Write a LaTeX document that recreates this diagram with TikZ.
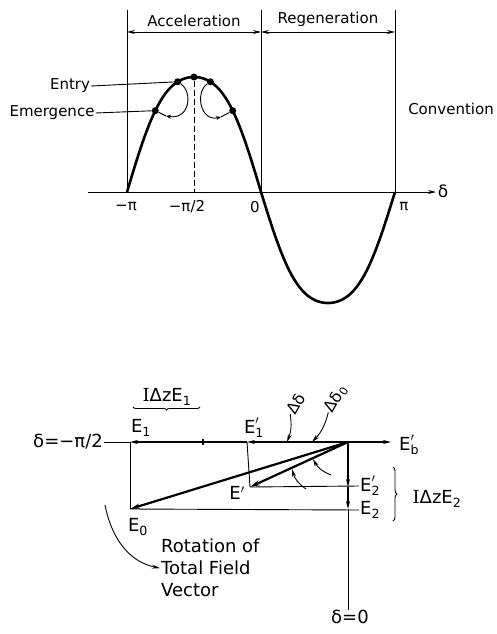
\documentclass[tikz,border=0pt]{standalone}
\usepackage{fontspec}
\setmainfont{DejaVu Sans}
\newfontfamily\serifI{DejaVu Serif}
\usepackage{amsmath}
\usetikzlibrary{arrows.meta, decorations.pathreplacing}

\begin{document}
\begin{tikzpicture}[
    x=1pt, y=-1pt,
    >={Stealth[length=8pt,width=4pt]},
    declare function={hump(\t)=sin(\t)*(1+0.24*cos(\t)^2);},
    guide/.style={line width=0.9pt},
    medline/.style={line width=1.6pt},
    curve/.style={line width=2.6pt},
    vec/.style={line width=2.2pt, ->, >={Stealth[length=10pt,width=5pt]}},
    small arrow/.style={guide, ->, >={Stealth[length=5pt,width=4pt]}},
    toplabel/.style={font=\fontsize{15}{17}\selectfont, inner sep=1pt},
    botlabel/.style={font=\fontsize{18}{22}\selectfont, inner sep=1pt},
    dot/.style={circle, fill, inner sep=0pt, minimum size=7pt},
  ]
  \useasboundingbox (0,0) rectangle (496,634);

  % upper plot
  \coordinate (mpi) at (127,192);
  \coordinate (zero) at (261,192);
  \coordinate (ppi) at (395,192);
  \coordinate (mpitop) at (127,10);
  \coordinate (zerotop) at (261,10);
  \coordinate (ppitop) at (395,10);
  \coordinate (axs) at (88,192);
  \coordinate (axe) at (436,192);

  \draw[guide] (mpitop) -- (mpi);
  \draw[guide] (zerotop) -- (zero);
  \draw[guide] (ppitop) -- (ppi);
  \draw[guide, ->] (axs) -- (axe);
  \draw[guide, <->] (127,32) -- node[toplabel, above=4pt] (acc) {Acceleration} (261,32);
  \draw[guide, <->] (261,32) -- node[toplabel, above=4pt] (reg) {Regeneration} (395,32);

  \draw[curve] plot[domain=-180:180, samples=121, smooth]
    ({261+0.7444*\x},{192+((\x<0)*115+(\x>=0)*111)*hump(\x)});

  \node[dot] (peak) at (194,77) {};
  \node[dot] (entL) at ({261+0.7444*(-112)},{192+115*hump(-112)}) {};
  \node[dot] (entR) at ({261+0.7444*(-68)},{192+115*hump(-68)}) {};
  \node[dot] (emgL) at ({261+0.7444*(-142)},{192+115*hump(-142)}) {};
  \node[dot] (emgR) at ({261+0.7444*(-38)},{192+115*hump(-38)}) {};
  \draw[guide, dashed, dash pattern=on 6pt off 3pt] (peak) -- (194,192);

  \coordinate (lpL) at (166,116);
  \coordinate (lpR) at (221,117);
  \draw[small arrow] (entL) .. controls (193,92) and (190,120) .. (lpL);
  \draw[guide] (lpL) -- (emgL);
  \draw[small arrow] (entR) .. controls (195,92) and (200,122) .. (lpR);
  \draw[guide] (lpR) -- (emgR);

  \node[toplabel] (entry) at (70,86) {Entry};
  \node[toplabel] (emerg) at (52,113) {Emergence};
  \node[toplabel] (conv) at (451,109) {Convention};
  \draw[guide] (entry.east) -- (entL);
  \draw[guide] (emerg.east) -- (emgL);

  \node[toplabel] (lmpi) at (126,207) {−π};
  \node[toplabel] (lmpi2) at (187,207) {−π/2};
  \node[toplabel] (lzero) at (255,207) {0};
  \node[toplabel] (lppi) at (404,207) {π};
  \node[toplabel, font=\fontsize{17}{19}\selectfont] (ldel) at (443,191) {δ};

  % lower phasor diagram
  \coordinate (O) at (348,442);
  \coordinate (E1) at (130,442);
  \coordinate (E1p) at (247,442);
  \coordinate (tk) at (203,442);
  \coordinate (Eb) at (391,442);
  \coordinate (E0) at (130,509);
  \coordinate (Ep) at (250,487);
  \coordinate (E2p) at (348,487);
  \coordinate (E2) at (348,509);
  \coordinate (dz) at (348,610);

  \node[botlabel] (dmpi2) at (68,442) {δ=−π/2};
  \draw[guide] (dmpi2.east) -- (E1);
  \draw[medline, ->] (O) -- (E1p);
  \draw[medline, ->] (E1p) -- (E1);
  \draw[medline, ->] (O) -- (Eb);
  \draw[medline] ([yshift=-3pt]tk) -- ([yshift=3pt]tk);

  \node[botlabel] (lE1) at (141,428) {E\textsubscript{1}};
  \node[botlabel] (lE1p) at (254,428) {$\text{E}'_{\text{1}}$};
  \node[botlabel, anchor=west] (lEb) at (398,445) {$\text{E}'_{\text{b}}$};
  \node[botlabel] (lEp) at (237,493) {E$'$};
  \node[botlabel] (lE0) at (138,527) {E\textsubscript{0}};
  \node[botlabel, anchor=west] (lE2p) at (359,486) {$\text{E}'_{\text{2}}$};
  \node[botlabel, anchor=west] (lE2) at (359,510) {E\textsubscript{2}};
  \node[botlabel, anchor=north] (ldz) at (350,609) {δ=0};

  \draw[guide] (E1) -- (E0);
  \draw[guide] (E1p) -- (Ep);
  \draw[guide] (Ep) -- (lE2p.west);
  \draw[guide] (E0) -- (lE2.west);
  \draw[medline, ->] (O) -- (E2p);
  \draw[medline, ->] (E2p) -- (E2);
  \draw[guide] (E2) -- (dz);
  \draw[vec] (O) -- (E0);
  \draw[vec] (O) -- (Ep);

  \coordinate (a1s) at (331,475);
  \coordinate (a1e) at (313,459);
  \coordinate (a2s) at (306,489);
  \coordinate (a2e) at (292,469);
  \draw[guide, ->] (a1s) to[bend left=20] (a1e);
  \draw[guide, ->] (a2s) to[bend left=20] (a2e);

  \node[botlabel, font=\fontsize{16}{18}\selectfont, rotate=60] (dd) at (296,404) {Δδ};
  \node[botlabel, font=\fontsize{16}{18}\selectfont, rotate=60] (dd0) at (336,399) {Δδ\textsubscript{0}};
  \coordinate (dde) at (287,442);
  \coordinate (dd0e) at (312,442);
  \draw[guide, ->] (dd.west) to[bend left=15] (dde);
  \draw[guide, ->] (dd0.west) to[bend left=15] (dd0e);

  \node[botlabel] (ie1) at (167,397) {{\serifI I}ΔzE\textsubscript{1}};
  \draw[guide, decorate, decoration={brace, amplitude=3pt}] (200,407) -- (133,407);
  \node[botlabel] (ie2) at (437,499) {{\serifI I}ΔzE\textsubscript{2}};
  \draw[guide, decorate, decoration={brace, amplitude=4pt}] (393,467) -- (393,521);

  \node[botlabel, anchor=north west, align=left] (rot) at (160,538)
    {Rotation of\\Total Field\\Vector};
  \coordinate (rs) at (105,505);
  \draw[guide, ->] (rs) .. controls (112,540) and (130,562) .. (rot.west);
\end{tikzpicture}
\end{document}
